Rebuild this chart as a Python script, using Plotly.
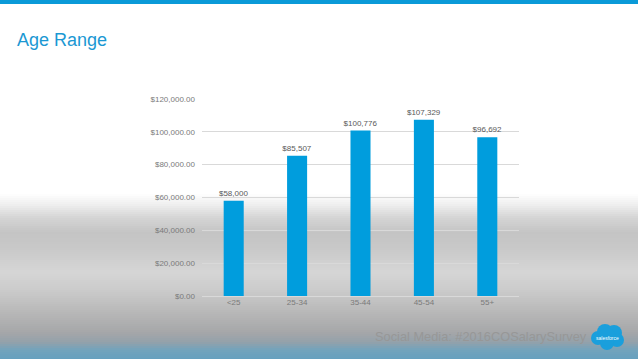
import plotly.graph_objects as go

categories = ["<25", "25-34", "35-44", "45-54", "55+"]
salaries = [58000, 85507, 100776, 107329, 96692]
y_ticks = [0, 20000, 40000, 60000, 80000, 100000, 120000]

W, H = 638, 359
ML, MR, MT, MB = 202, 119, 99, 63
PW, PH = W - ML - MR, H - MT - MB


def px(x):
    return (x - ML) / PW


def py(y):
    return (H - MB - y) / PH


labels = [f"${v:,}" for v in salaries]

fig = go.Figure(
    go.Bar(
        x=categories,
        y=salaries,
        marker=dict(color="#009ddd", line=dict(width=0)),
        text=labels,
        textposition="outside",
        constraintext="none",
        textfont=dict(size=8, color="#595959"),
        cliponaxis=False,
    )
)

# background gradient (decorative)
stops = [
    (0, (255, 255, 255)),
    (194, (255, 255, 255)),
    (206, (236, 236, 236)),
    (218, (212, 212, 212)),
    (233, (196, 196, 196)),
    (250, (201, 201, 201)),
    (272, (214, 214, 214)),
    (290, (203, 203, 203)),
    (312, (184, 184, 184)),
    (332, (166, 167, 169)),
    (342, (148, 161, 170)),
    (350, (114, 163, 188)),
    (359, (102, 160, 190)),
]


def col(y):
    for (y0, c0), (y1, c1) in zip(stops, stops[1:]):
        if y0 <= y <= y1:
            t = (y - y0) / (y1 - y0) if y1 > y0 else 0
            return "rgb(%d,%d,%d)" % tuple(round(a + (b - a) * t) for a, b in zip(c0, c1))
    return "rgb(255,255,255)"


shapes = []
for y in range(188, H, 2):
    shapes.append(dict(
        type="rect", xref="paper", yref="paper", layer="below",
        x0=px(-2), x1=px(W + 2), y0=py(y + 2.2), y1=py(y),
        fillcolor=col(y + 1), line=dict(width=0),
    ))

# top blue bar
shapes.append(dict(type="rect", xref="paper", yref="paper", layer="above",
                   x0=px(-2), x1=px(W + 2), y0=py(4), y1=py(-2),
                   fillcolor="#0a9ad8", line=dict(width=0)))

# salesforce cloud logo
for cx, cy, r in [(598, 338, 7), (605, 332, 8), (614, 333, 8), (617, 340, 7), (607, 343, 7), (607, 337, 9)]:
    shapes.append(dict(type="circle", xref="paper", yref="paper", layer="above",
                       x0=px(cx - r), x1=px(cx + r), y0=py(cy + r), y1=py(cy - r),
                       fillcolor="#1a9fdc", line=dict(width=0)))

annotations = [
    dict(text="Age Range", x=px(15), y=py(40), xref="paper", yref="paper",
         xanchor="left", yanchor="middle", showarrow=False,
         font=dict(size=18, color="#1b98d3", family="Liberation Sans, Arial")),
    dict(text="Social Media: #2016COSalarySurvey", x=px(373), y=py(336),
         xref="paper", yref="paper", xanchor="left", yanchor="middle", showarrow=False,
         font=dict(size=12.8, color="#979797", family="Liberation Sans, Arial")),
    dict(text="salesforce", x=px(607), y=py(338), xref="paper", yref="paper",
         xanchor="center", yanchor="middle", showarrow=False,
         font=dict(size=5, color="white", family="Liberation Sans, Arial")),
]

fig.update_layout(
    width=W, height=H,
    margin=dict(l=ML, r=MR, t=MT, b=MB, pad=0),
    paper_bgcolor="white",
    plot_bgcolor="rgba(0,0,0,0)",
    font=dict(family="Liberation Sans, Arial", size=8, color="#7a7a7a"),
    bargap=0.684,
    showlegend=False,
    shapes=shapes,
    annotations=annotations,
    xaxis=dict(showgrid=False, showline=False, ticks="", tickfont=dict(size=8, color="#7a7a7a")),
    yaxis=dict(range=[0, 120000], tickvals=y_ticks, tickformat="$,.2f",
               showgrid=True, gridcolor="#d9d9d9", gridwidth=1,
               zeroline=True, zerolinecolor="#d9d9d9", zerolinewidth=1,
               showline=False, ticks="", ticklabelstandoff=6,
               tickfont=dict(size=8, color="#7a7a7a")),
)

fig.write_html(
    "out.html",
    config={"displayModeBar": False},
    post_script="document.body.style.margin='0';document.body.style.overflow='hidden';",
)
